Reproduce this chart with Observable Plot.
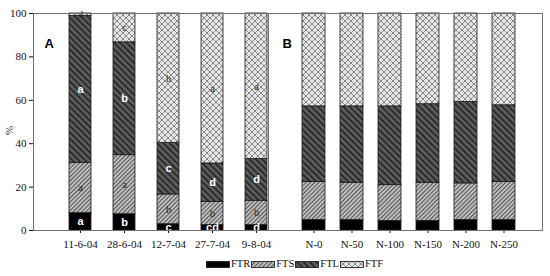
<!DOCTYPE html>
<html><head><meta charset="utf-8">
<script src="https://cdn.jsdelivr.net/npm/d3@7"></script>
<script src="https://cdn.jsdelivr.net/npm/@observablehq/plot@0.6"></script>
<style>
body{margin:0;background:#fff;}
#wrap{position:relative;width:550px;height:276px;overflow:hidden;}
#wrap > svg{position:absolute;left:0;top:0;}
#legend{position:absolute;left:206px;top:258px;display:flex;align-items:center;font-family:"Liberation Serif",serif;font-size:10.5px;line-height:12px;color:#111;}
#legend svg{display:block;}
</style></head><body>
<svg width="0" height="0" style="position:absolute">
<defs>
<pattern id="pFTS" patternUnits="userSpaceOnUse" width="3" height="3" patternTransform="rotate(45)">
<rect width="3" height="3" fill="#bdbdbd"/><line x1="0.5" y1="0" x2="0.5" y2="3" stroke="#555" stroke-width="1"/>
</pattern>
<pattern id="pFTL" patternUnits="userSpaceOnUse" width="4.5" height="4.5" patternTransform="rotate(-45)">
<rect width="4.5" height="4.5" fill="#5c5c5c"/><line x1="0.75" y1="0" x2="0.75" y2="4.5" stroke="#1c1c1c" stroke-width="1.4"/>
</pattern>
<pattern id="pFTF" patternUnits="userSpaceOnUse" width="6" height="6">
<rect width="6" height="6" fill="#e6e6e6"/><path d="M0,0L6,6M6,0L0,6" stroke="#6e6e6e" stroke-width="0.8"/>
</pattern>
</defs></svg>
<div id="wrap"></div>
<script>
// ---- data ----
const series = ["FTR", "FTS", "FTL", "FTF"];
const dates = ["11-6-04", "28-6-04", "12-7-04", "27-7-04", "9-8-04"];
const nLevels = ["N-0", "N-50", "N-100", "N-150", "N-200", "N-250"];
const yTicks = [0, 20, 40, 60, 80, 100];
const yLabel = "%";

// Panel A (%)
const ftrA = [8.0, 7.5, 2.9, 2.5, 2.5];
const ftsA = [23.2, 27.2, 13.7, 10.7, 11.2];
const ftlA = [67.7, 52.0, 23.8, 17.7, 19.2];
const ftfA = [1.1, 13.3, 59.6, 69.1, 67.1];
// significance letters, panel A
const lettersFTR = ["a", "b", "c", "cd", "d"];
const lettersFTS = ["a", "a", "b", "b", "b"];
const lettersFTL = ["a", "b", "c", "d", "d"];
const lettersFTF = ["d", "c", "b", "a", "a"];

// Panel B (%)
const ftrB = [4.8, 4.8, 4.4, 4.4, 4.8, 4.8];
const ftsB = [17.6, 17.2, 16.5, 17.6, 16.9, 17.6];
const ftlB = [34.8, 35.2, 36.3, 36.2, 37.5, 35.3];
const ftfB = [42.8, 42.8, 42.8, 41.8, 40.8, 42.3];

// ---- build tables ----
const valuesA = [ftrA, ftsA, ftlA, ftfA];
const lettersA = [lettersFTR, lettersFTS, lettersFTL, lettersFTF];
const valuesB = [ftrB, ftsB, ftlB, ftfB];
const rowsA = [], rowsB = [];
dates.forEach((c, i) => series.forEach((s, j) => rowsA.push({cat: c, series: s, value: valuesA[j][i], letter: lettersA[j][i]})));
nLevels.forEach((c, i) => series.forEach((s, j) => rowsB.push({cat: c, series: s, value: valuesB[j][i], letter: ""})));

const fills = ["#000", "url(#pFTS)", "url(#pFTL)", "url(#pFTF)"];
const whiteSet = new Set(["FTR", "FTL"]);

function panel(rows, domain, opts) {
  const marks = [
    Plot.barY(rows, {x: "cat", y: "value", fill: "series", stroke: "#1a1a1a", strokeWidth: 0.8}),
    Plot.text(rows, Plot.stackY({x: "cat", y: "value", z: "series", text: d => whiteSet.has(d.series) ? d.letter : "", fill: "white", fontWeight: "bold", fontFamily: "'Liberation Sans', Arial, sans-serif", fontSize: 11})),
    Plot.text(rows, Plot.stackY({x: "cat", y: "value", z: "series", text: d => whiteSet.has(d.series) ? "" : d.letter, fill: "#262626", fontFamily: "'Liberation Serif', serif", fontSize: 10.5})),
    Plot.frame({stroke: "#707070"}),
    Plot.text([opts.tag], {frameAnchor: "top-left", dx: opts.tagDx, dy: 25, text: d => d, textAnchor: "start", fill: "#000", fontWeight: "bold", fontFamily: "'Liberation Sans', Arial, sans-serif", fontSize: 13})
  ];
  if (opts.yAxis) marks.push(Plot.text([yLabel], {frameAnchor: "left", dx: -24, dy: 13, rotate: -90, text: d => d, fill: "#222", fontSize: 11}));
  return Plot.plot({
    width: 550, height: 252, marginTop: 13, marginBottom: 22,
    marginLeft: opts.marginLeft, marginRight: opts.marginRight,
    style: {fontFamily: "'Liberation Serif', serif", fontSize: "11px", color: "#111", background: "transparent", overflow: "visible"},
    x: {domain, paddingInner: opts.paddingInner, paddingOuter: 0, insetLeft: opts.insetLeft, insetRight: opts.insetRight, tickSize: 3, tickPadding: 7, label: null},
    y: opts.yAxis ? {domain: [0, 100], ticks: yTicks, tickSize: 4, tickPadding: 3, label: null} : {domain: [0, 100], axis: null},
    color: {domain: series, range: fills},
    marks
  });
}

const wrap = document.getElementById("wrap");
wrap.appendChild(panel(rowsA, dates, {marginLeft: 33, marginRight: 282, paddingInner: 0.5, insetLeft: 34, insetRight: 0, yAxis: true, tag: "A", tagDx: 11}));
wrap.appendChild(panel(rowsB, nLevels, {marginLeft: 268, marginRight: 8, paddingInner: 0.4, insetLeft: 33, insetRight: 27, yAxis: false, tag: "B", tagDx: 14}));

// legend
const legend = d3.select(wrap).append("div").attr("id", "legend");
series.forEach((s, i) => {
  const sw = legend.append("svg").attr("width", 24).attr("height", 7);
  sw.append("rect").attr("x", 0.5).attr("y", 0.5).attr("width", 23).attr("height", 6).attr("fill", fills[i]).attr("stroke", "#111").attr("stroke-width", 0.8);
  legend.append("span").style("padding", "0 1px 0 1px").text(s);
});
</script>
</body></html>
